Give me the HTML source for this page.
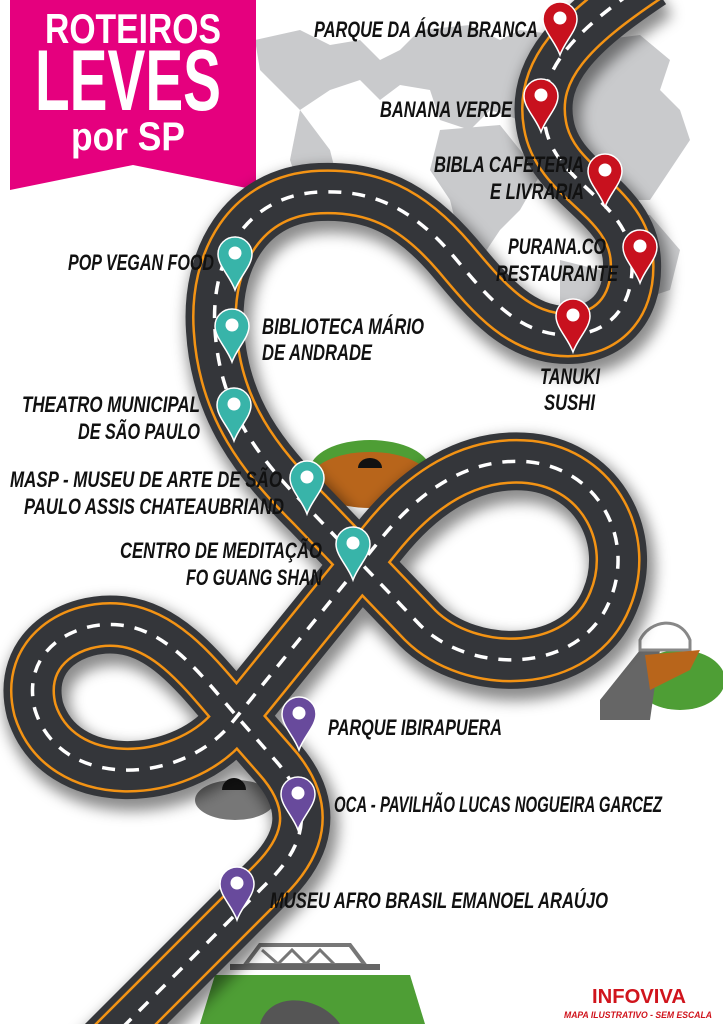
<!DOCTYPE html>
<html><head><meta charset="utf-8"><style>
html,body{margin:0;padding:0;background:#fff;}
svg{display:block;}
.l{font-family:"Liberation Sans",sans-serif;font-weight:bold;font-style:italic;font-size:22px;fill:#111;}
</style></head><body>
<svg width="723" height="1024" viewBox="0 0 723 1024" xmlns="http://www.w3.org/2000/svg">
<defs>
<filter id="sh" x="-20%" y="-20%" width="140%" height="140%"><feGaussianBlur stdDeviation="7"/></filter>
<path id="rd" d="M 650,-20 C 575,30 535,70 545,125 C 555,185 630,200 632,262 C 634,310 605,335 568,335 C 520,335 490,300 455,258 C 410,205 370,190 320,192 C 245,195 210,260 215,330 C 220,410 260,460 310,510 L 420,625 C 470,675 580,675 610,600 C 635,540 600,470 530,462 C 470,456 420,490 380,540 L 230,725 C 180,785 60,790 35,710 C 20,650 75,620 120,625 C 170,630 205,680 240,720 L 275,760 C 320,810 300,850 270,880 L 90,1060"/>
<g id="pin"><path d="M0,0 C-5,-14 -17,-24 -17,-36 A17,17 0 1 1 17,-36 C17,-24 5,-14 0,0 Z" stroke="#fff" stroke-width="1.5"/><circle cx="0" cy="-37" r="6.5" fill="#fff"/></g>
</defs>
<!-- world map -->
<g fill="#c9cacc">
<path d="M255,40 L300,30 L330,45 L360,40 L380,60 L400,50 L420,30 L470,25 L500,40 L520,30 L560,35 L600,40 L640,35 L670,60 L660,90 L680,110 L690,140 L670,170 L650,200 L620,200 L600,175 L560,150 L530,150 L520,120 L490,110 L470,130 L440,120 L430,90 L400,85 L380,100 L360,80 L330,90 L300,110 L280,90 L260,70 Z"/>
<path d="M440,130 L500,125 L520,150 L540,175 L520,210 L500,230 L480,260 L460,240 L450,200 L430,170 Z"/>
<path d="M300,110 L330,150 L340,190 L300,190 L290,160 Z"/>
<path d="M600,210 L650,215 L680,250 L670,290 L640,300 L610,280 Z"/>
<path d="M560,260 L600,270 L610,300 L590,320 L560,310 Z"/>
</g>
<!-- title banner -->
<path d="M10,0 L256,0 L256,190 L133,165 L10,190 Z" fill="#e5007e"/>
<text x="133" y="43" text-anchor="middle" font-family="Liberation Sans,sans-serif" font-weight="bold" font-size="42" fill="#fff" textLength="176" lengthAdjust="spacingAndGlyphs">ROTEIROS</text>
<text x="128" y="110" text-anchor="middle" font-family="Liberation Sans,sans-serif" font-weight="bold" font-size="86" fill="#fff" textLength="186" lengthAdjust="spacingAndGlyphs">LEVES</text>
<text x="128" y="150" text-anchor="middle" font-family="Liberation Sans,sans-serif" font-weight="bold" font-size="40" fill="#fff" textLength="114" lengthAdjust="spacingAndGlyphs">por SP</text>
<!-- decorations -->
<ellipse cx="370" cy="470" rx="60" ry="30" fill="#4e9e35"/>
<ellipse cx="370" cy="480" rx="60" ry="28" fill="#b8651b"/>
<path d="M358,468 a12,10 0 0 1 24,0 Z" fill="#111"/>
<ellipse cx="680" cy="680" rx="45" ry="30" fill="#4e9e35"/>
<path d="M600,700 L640,650 L660,650 L650,720 L600,720 Z" fill="#666"/>
<path d="M640,640 C650,620 680,615 690,640 L690,650 L640,650 Z" fill="none" stroke="#888" stroke-width="3"/>
<path d="M645,655 L700,650 L690,670 L650,690 Z" fill="#b8651b"/>
<ellipse cx="235" cy="800" rx="40" ry="20" fill="#777"/>
<path d="M222,790 a12,12 0 0 1 24,0 Z" fill="#111"/>
<path d="M200,1024 L215,975 L410,975 L425,1024 Z" fill="#4e9e35"/>
<path d="M245,965 L260,945 L350,945 L365,965 Z" fill="none" stroke="#777" stroke-width="4"/>
<path d="M262,950 L278,964 L292,950 L306,964 L320,950 L334,964" fill="none" stroke="#777" stroke-width="3"/>
<rect x="230" y="964" width="150" height="6" fill="#666"/>
<path d="M260,1024 C270,990 320,995 340,1024 Z" fill="#555"/>
<!-- road -->
<use href="#rd" fill="none" stroke="#000" stroke-opacity="0.45" stroke-width="66" filter="url(#sh)" transform="translate(4,8)"/>
<use href="#rd" fill="none" stroke="#34363a" stroke-width="58"/>
<use href="#rd" fill="none" stroke="#f39314" stroke-width="45"/>
<use href="#rd" fill="none" stroke="#34363a" stroke-width="40"/>
<use href="#rd" fill="none" stroke="#fff" stroke-width="3.5" stroke-dasharray="13 11"/>
<!-- pins -->
<g fill="#c8111e">
<use href="#pin" x="560" y="55"/><use href="#pin" x="541" y="132"/><use href="#pin" x="605" y="207"/><use href="#pin" x="640" y="283"/><use href="#pin" x="573" y="352"/>
</g>
<g fill="#38b4a9">
<use href="#pin" x="235" y="290"/><use href="#pin" x="232" y="362"/><use href="#pin" x="234" y="441"/><use href="#pin" x="307" y="514"/><use href="#pin" x="353" y="580"/>
</g>
<g fill="#684a9c">
<use href="#pin" x="299" y="750"/><use href="#pin" x="298" y="830"/><use href="#pin" x="237" y="920"/>
</g>
<!-- labels -->
<g class="l">
<text x="314" y="37" textLength="224" lengthAdjust="spacingAndGlyphs">PARQUE DA ÁGUA BRANCA</text>
<text x="380" y="117" textLength="132" lengthAdjust="spacingAndGlyphs">BANANA VERDE</text>
<text x="434" y="172" textLength="150" lengthAdjust="spacingAndGlyphs">BIBLA CAFETERIA</text>
<text x="490" y="199" textLength="94" lengthAdjust="spacingAndGlyphs">E LIVRARIA</text>
<text x="508" y="254" textLength="98" lengthAdjust="spacingAndGlyphs">PURANA.CO</text>
<text x="496" y="281" textLength="122" lengthAdjust="spacingAndGlyphs">RESTAURANTE</text>
<text x="540" y="384" textLength="60" lengthAdjust="spacingAndGlyphs">TANUKI</text>
<text x="544" y="410" textLength="51" lengthAdjust="spacingAndGlyphs">SUSHI</text>
<text x="68" y="270" textLength="146" lengthAdjust="spacingAndGlyphs">POP VEGAN FOOD</text>
<text x="262" y="334" textLength="162" lengthAdjust="spacingAndGlyphs">BIBLIOTECA MÁRIO</text>
<text x="262" y="360" textLength="110" lengthAdjust="spacingAndGlyphs">DE ANDRADE</text>
<text x="22" y="412" textLength="178" lengthAdjust="spacingAndGlyphs">THEATRO MUNICIPAL</text>
<text x="78" y="439" textLength="122" lengthAdjust="spacingAndGlyphs">DE SÃO PAULO</text>
<text x="10" y="487" textLength="272" lengthAdjust="spacingAndGlyphs">MASP - MUSEU DE ARTE DE SÃO</text>
<text x="24" y="514" textLength="260" lengthAdjust="spacingAndGlyphs">PAULO ASSIS CHATEAUBRIAND</text>
<text x="120" y="558" textLength="202" lengthAdjust="spacingAndGlyphs">CENTRO DE MEDITAÇÃO</text>
<text x="186" y="585" textLength="136" lengthAdjust="spacingAndGlyphs">FO GUANG SHAN</text>
<text x="328" y="735" textLength="174" lengthAdjust="spacingAndGlyphs">PARQUE IBIRAPUERA</text>
<text x="334" y="812" textLength="328" lengthAdjust="spacingAndGlyphs">OCA - PAVILHÃO LUCAS NOGUEIRA GARCEZ</text>
<text x="270" y="908" textLength="338" lengthAdjust="spacingAndGlyphs">MUSEU AFRO BRASIL EMANOEL ARAÚJO</text>
</g>
<text x="592" y="1003" font-family="Liberation Sans,sans-serif" font-weight="bold" font-size="20" fill="#d0141c" textLength="94" lengthAdjust="spacingAndGlyphs">INFOVIVA</text>
<text x="564" y="1018" font-family="Liberation Sans,sans-serif" font-weight="bold" font-style="italic" font-size="9" fill="#d0141c" textLength="148" lengthAdjust="spacingAndGlyphs">MAPA ILUSTRATIVO - SEM ESCALA</text>
</svg>
</body></html>
